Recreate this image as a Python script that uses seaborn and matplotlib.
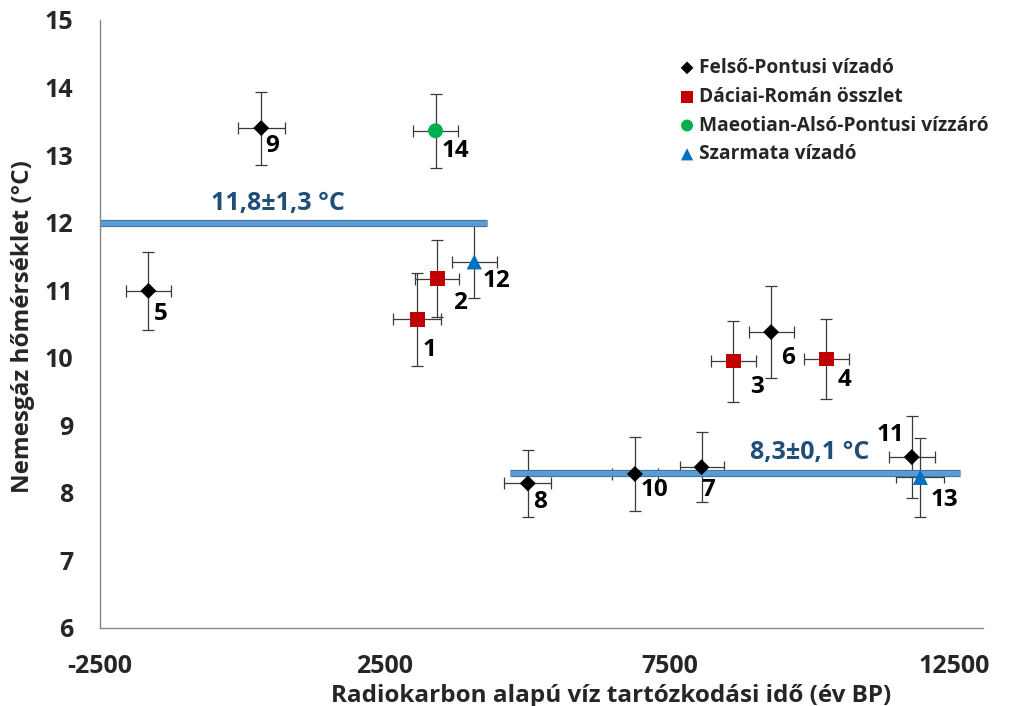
import matplotlib
matplotlib.use("Agg")
import matplotlib.pyplot as plt
import matplotlib.patheffects as pe
import seaborn as sns
import pandas as pd

# Sample data: residence time (x), noble gas temperature (y) and their uncertainties
sample_id = [1, 2, 3, 4, 5, 6, 7, 8, 9, 10, 11, 12, 13, 14]
aquifer = ["Dáciai-Román összlet", "Dáciai-Román összlet", "Dáciai-Román összlet",
           "Dáciai-Román összlet", "Felső-Pontusi vízadó", "Felső-Pontusi vízadó",
           "Felső-Pontusi vízadó", "Felső-Pontusi vízadó", "Felső-Pontusi vízadó",
           "Felső-Pontusi vízadó", "Felső-Pontusi vízadó", "Szarmata vízadó",
           "Szarmata vízadó", "Maeotian-Alsó-Pontusi vízzáró"]
age = [3070, 3420, 8620, 10250, -1650, 9280, 8060, 5010, 330, 6890, 11750, 4070, 11900, 3390]
age_err = [420, 390, 400, 395, 390, 395, 385, 415, 415, 410, 400, 395, 420, 400]
temp = [10.57, 11.17, 9.95, 9.98, 10.99, 10.38, 8.38, 8.14, 13.40, 8.28, 8.53, 11.42, 8.23, 13.36]
temp_err = [0.69, 0.57, 0.60, 0.59, 0.58, 0.68, 0.52, 0.50, 0.54, 0.55, 0.61, 0.54, 0.58, 0.55]
# label offsets in pixels (dx right, dy down)
label_dx = [12, 23, 24, 18, 12, 17, 7, 12, 11, 20, -21, 22, 24, 20]
label_dy = [31, 24, 26, 21, 23, 26, 23, 19, 18, 16, -22, 19, 23, 20]

# Mean temperature bands
band_y = [12.0, 8.3]
band_x0 = [-2500, 4690]
band_x1 = [4290, 12590]
band_text = ["11,8±1,3 °C", "8,3±0,1 °C"]
band_text_x = [615, 9950]
band_text_y = [12.28, 8.60]

groups = ["Felső-Pontusi vízadó", "Dáciai-Román összlet",
          "Maeotian-Alsó-Pontusi vízzáró", "Szarmata vízadó"]
colors = ["#000000", "#C00000", "#00B050", "#0070C0"]
markers = ["D", "s", "o", "^"]
sizes = [66, 112, 115, 120]

df = pd.DataFrame({"id": sample_id, "aquifer": aquifer, "age": age, "age_err": age_err,
                   "temp": temp, "temp_err": temp_err})

sns.set_theme(style="white")
plt.rcParams["font.family"] = ["Open Sans", "DejaVu Sans"]
plt.rcParams["font.weight"] = "bold"
plt.rcParams["axes.unicode_minus"] = False

fig = plt.figure(figsize=(10.11, 7.06), dpi=100)
ax = fig.add_axes([0.0989, 0.1105, 0.8734, 0.8612])

# error bars
ax.errorbar(df["age"], df["temp"], xerr=df["age_err"], yerr=df["temp_err"],
            fmt="none", ecolor="#3a3a3a", elinewidth=0.9, capsize=4, capthick=0.9,
            zorder=2)

# mean bands
for y, x0, x1, t, tx, ty in zip(band_y, band_x0, band_x1, band_text, band_text_x, band_text_y):
    ax.plot([x0, x1], [y, y], color="#5B9BD5", lw=3.8, solid_capstyle="butt", zorder=2.5,
            path_effects=[pe.Stroke(linewidth=5.2, foreground="#41719C", capstyle="butt"),
                          pe.Normal()])
    ax.text(tx, ty, t, color="#1F4E79", fontsize=18, fontweight="bold",
            ha="center", va="center", zorder=4)

# markers
for g, c, m, s in zip(groups, colors, markers, sizes):
    sub = df[df["aquifer"] == g]
    sns.scatterplot(data=sub, x="age", y="temp", ax=ax, color=c, marker=m, s=s,
                    edgecolor="none", linewidth=0, label=g, zorder=3)

# point labels
for i, row in df.iterrows():
    ax.annotate(str(row["id"]), (row["age"], row["temp"]),
                xytext=(label_dx[i], -label_dy[i]), textcoords="offset pixels",
                ha="center", va="center", fontsize=17.5, fontweight="bold",
                color="black", zorder=4)

ax.set_xlim(-2500, 13000)
ax.set_ylim(6, 15)
ax.set_xticks([-2500, 2500, 7500, 12500])
ax.set_yticks(range(6, 16))
ax.set_xlabel("Radiokarbon alapú víz tartózkodási idő (év BP)", fontsize=17.5,
              fontweight="bold")
ax.set_ylabel("Nemesgáz hőmérséklet (°C)", fontsize=17.5, fontweight="bold")
ax.xaxis.set_label_coords(0.579, -0.092)
ax.yaxis.label.set_va("center")
ax.yaxis.set_label_coords(-0.087, 0.495)
ax.tick_params(axis="both", labelsize=18, direction="out", length=6, width=0.9,
               color="#868686", pad=13)
for lbl in ax.get_xticklabels() + ax.get_yticklabels():
    lbl.set_fontweight("bold")

for side in ["top", "right"]:
    ax.spines[side].set_visible(False)
for side in ["left", "bottom"]:
    ax.spines[side].set_color("#868686")
    ax.spines[side].set_linewidth(1.0)
ax.grid(False)

leg = ax.legend(loc="upper left", bbox_to_anchor=(0.672, 0.918),
                bbox_transform=fig.transFigure, frameon=False, fontsize=13.8,
                markerscale=0.8, handletextpad=0.24, labelspacing=0.46,
                handlelength=0.8, borderpad=0, borderaxespad=0)
for t in leg.get_texts():
    t.set_fontweight("bold")

fig.savefig("out.png", dpi=100)
